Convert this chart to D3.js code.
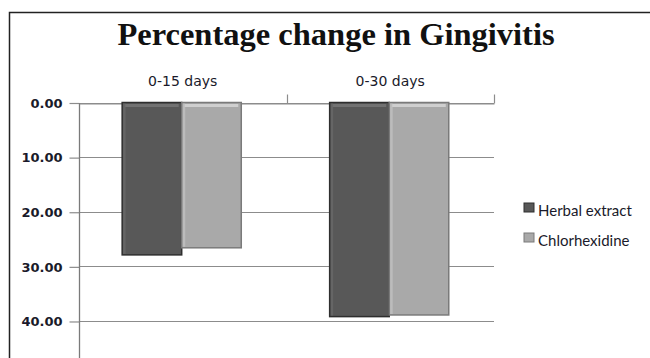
<!DOCTYPE html>
<html><head><meta charset="utf-8">
<script src="https://cdn.jsdelivr.net/npm/d3@7"></script>
<style>html,body{margin:0;padding:0;background:#fff;overflow:hidden}</style>
</head><body>
<svg id="c" width="650" height="358"></svg>
<script>
const categories = ["0-15 days", "0-30 days"];
const seriesNames = ["Herbal extract", "Chlorhexidine"];
const herbalValues = [27.9, 39.2];
const chlorValues = [26.6, 38.9];
const yTicks = [0, 10, 20, 30, 40];
const title = "Percentage change in Gingivitis";

const svg = d3.select("#c");
const colors = {"Herbal extract": "#585858", "Chlorhexidine": "#a9a9a9"};
const edge = {"Herbal extract": "#2e2e2e", "Chlorhexidine": "#7a7a7a"};
const hi = {"Herbal extract": "#727272", "Chlorhexidine": "#cfcfcf"};

// border
svg.append("path").attr("d", "M9.5,358 V12.5 H650").attr("fill","none").attr("stroke","#222").attr("stroke-width",1.5);

svg.append("text").attr("x", 336).attr("y", 45).attr("text-anchor","middle")
  .attr("font-family","'Liberation Serif','Times New Roman',serif").attr("font-weight","bold")
  .attr("font-size", 32.5).attr("fill","#111").text(title);

const left = 79, right = 494;
const y = d3.scaleLinear().domain([0, 50]).range([102.5, 375.6]);
const x0 = d3.scaleBand().domain(categories).range([left, right]);
const bw = x0.bandwidth();
const x1 = d3.scaleBand().domain(seriesNames).range([bw*0.208, bw*0.782]);

// gridlines
svg.append("g").selectAll("line").data(yTicks).join("line")
  .attr("x1", left).attr("x2", right).attr("y1", d=>Math.round(y(d))+0.5).attr("y2", d=>Math.round(y(d))+0.5)
  .attr("stroke","#8c8c8c").attr("stroke-width",1.2);

// y axis
const yAxis = d3.axisLeft(y).tickValues(yTicks).tickSize(10).tickPadding(7).tickFormat(d3.format(".2f"));
const gy = svg.append("g").attr("transform", `translate(${left+0.5},0.5)`).call(yAxis);
gy.select(".domain").remove();
gy.append("line").attr("x1",0).attr("x2",0).attr("y1",y(0)).attr("y2",358).attr("stroke","#7a7a7a").attr("stroke-width",1.3);
gy.selectAll(".tick line").attr("stroke","#8c8c8c").attr("stroke-width",1.2);
gy.selectAll("text").attr("font-family","'DejaVu Sans',sans-serif").attr("font-weight","bold").attr("font-size",13).attr("fill","#1a1a2a");

// x axis on top
const xAxis = d3.axisTop(x0).tickSize(0).tickPadding(18);
const gx = svg.append("g").attr("transform", `translate(0,${Math.round(y(0))+0.5})`).call(xAxis);
gx.select(".domain").attr("stroke","#8c8c8c").attr("stroke-width",1.2);
gx.selectAll("text").attr("font-family","'DejaVu Sans',sans-serif").attr("font-size",14).attr("fill","#1a1a2a");
// category boundary ticks
const bounds = categories.map(c => x0(c) + bw);
gx.selectAll(".bt").data(bounds).join("line").attr("class","bt")
  .attr("x1", d=>Math.round(d)+0.5).attr("x2", d=>Math.round(d)+0.5).attr("y1",0).attr("y2",-9)
  .attr("stroke","#8c8c8c").attr("stroke-width",1.2);

// bars
const data = categories.map((c,i)=>({cat:c, vals:[{s:seriesNames[0], v:herbalValues[i]},{s:seriesNames[1], v:chlorValues[i]}]}));
const groups = svg.append("g").selectAll("g").data(data).join("g").attr("transform", d=>`translate(${x0(d.cat)},0)`);
const bars = groups.selectAll("g").data(d=>d.vals).join("g");
bars.append("rect").attr("x", d=>x1(d.s)).attr("y", y(0)).attr("width", x1.bandwidth()).attr("height", d=>y(d.v)-y(0))
  .attr("fill", d=>colors[d.s]).attr("stroke", d=>edge[d.s]).attr("stroke-width",1.5);
bars.append("rect").attr("x", d=>x1(d.s)+3).attr("y", y(0)+1.5).attr("width", x1.bandwidth()-6).attr("height", 3)
  .attr("fill", d=>hi[d.s]);
bars.append("rect").attr("x", d=>x1(d.s)+1).attr("y", y(0)+1).attr("width", 2.5).attr("height", d=>y(d.v)-y(0)-2)
  .attr("fill", d=>hi[d.s]).attr("opacity",0.5);

// legend
const lg = svg.append("g").selectAll("g").data(seriesNames).join("g")
  .attr("transform", (d,i)=>`translate(524,${203 + i*30})`);
lg.append("rect").attr("width",10).attr("height",9).attr("fill", d=>colors[d]).attr("stroke", d=>edge[d]).attr("stroke-width",1);
lg.append("text").attr("x",14).attr("y",12.5).attr("font-family","Lato,sans-serif").attr("font-size",15).attr("fill","#1a1a2a").text(d=>d);
</script>
</body></html>
